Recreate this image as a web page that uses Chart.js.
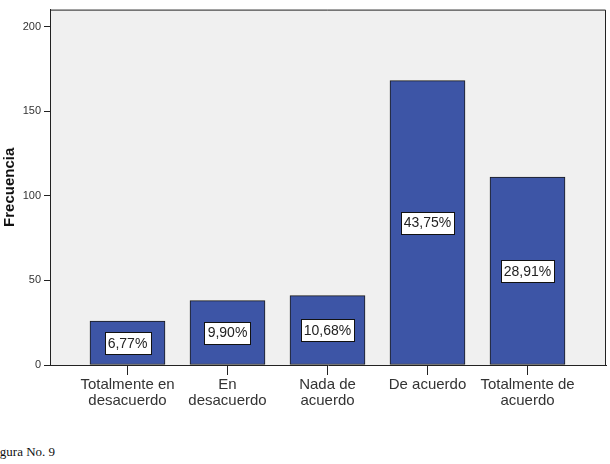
<!DOCTYPE html>
<html>
<head>
<meta charset="utf-8">
<script src="https://cdn.jsdelivr.net/npm/chart.js@4"></script>
<style>
  body { margin: 0; background: #fff; width: 610px; height: 464px; overflow: hidden; position: relative; }
  #c { position: absolute; left: 0; top: 0; }
  #cap { position: absolute; left: -11px; top: 444px; font: 13px "Liberation Serif", serif; color: #111; }
</style>
</head>
<body>
<canvas id="c" width="610" height="430"></canvas>
<div id="cap">Figura No. 9</div>
<script>
// chart data
var categories = [
  ["Totalmente en", "desacuerdo"],
  ["En", "desacuerdo"],
  ["Nada de", "acuerdo"],
  ["De acuerdo"],
  ["Totalmente de", "acuerdo"]
];
var frecuencia = [26, 38, 41, 168, 111];
var porcentajes = ["6,77%", "9,90%", "10,68%", "43,75%", "28,91%"];
var yTicks = [0, 50, 100, 150, 200];

// grey plot background with frame
var plotBox = {
  id: "plotBox",
  beforeDraw: function (chart) {
    var a = chart.chartArea, ctx = chart.ctx;
    ctx.save();
    ctx.fillStyle = "#f0f0f0";
    ctx.fillRect(a.left, a.top, a.right - a.left, a.bottom - a.top);
    ctx.strokeStyle = "#222";
    ctx.lineWidth = 1;
    ctx.beginPath();
    ctx.moveTo(a.left, a.top + 0.5);
    ctx.lineTo(a.right - 0.5, a.top + 0.5);
    ctx.lineTo(a.right - 0.5, a.bottom);
    ctx.stroke();
    ctx.restore();
  }
};

// percentage boxes in the middle of each bar
var pctLabels = {
  id: "pctLabels",
  afterDatasetsDraw: function (chart) {
    var ctx = chart.ctx;
    var meta = chart.getDatasetMeta(0);
    ctx.save();
    ctx.font = "14px 'Liberation Sans', Arial, sans-serif";
    ctx.textAlign = "center";
    ctx.textBaseline = "middle";
    meta.data.forEach(function (bar, i) {
      var txt = porcentajes[i];
      var w = Math.round(ctx.measureText(txt).width + 6);
      var h = 22;
      var cy = (bar.y + bar.base) / 2;
      var bx = Math.round(bar.x - w / 2) + 0.5, by = Math.round(cy - h / 2) + 0.5;
      ctx.fillStyle = "#fff";
      ctx.fillRect(bx, by, w, h);
      ctx.strokeStyle = "#111";
      ctx.lineWidth = 1;
      ctx.strokeRect(bx, by, w, h);
      ctx.fillStyle = "#222";
      ctx.fillText(txt, bar.x, cy + 1);
    });
    ctx.restore();
  }
};

var ctx = document.getElementById("c").getContext("2d");
var chart = new Chart(ctx, {
  type: "bar",
  data: {
    datasets: [{
      data: frecuencia.map(function (v, i) { return { x: i, y: v }; }),
      backgroundColor: "#3d55a6",
      borderColor: "#1a1a1a",
      borderWidth: 1,
      borderSkipped: false,
      barThickness: 75
    }]
  },
  options: {
    responsive: false,
    animation: false,
    layout: { padding: { top: 7, right: 4, left: 0, bottom: 0 } },
    plugins: { legend: { display: false }, tooltip: { enabled: false } },
    scales: {
      x: {
        type: "linear",
        offset: false,
        min: -0.775,
        max: 4.785,
        afterBuildTicks: function (scale) {
          scale.ticks = categories.map(function (c, i) { return { value: i }; });
        },
        afterFit: function (scale) { scale.height = 65; },
        ticks: {
          autoSkip: false,
          maxRotation: 0,
          padding: 1,
          color: "#333",
          font: { family: "'Liberation Sans', Arial, sans-serif", size: 15, lineHeight: 1.12 },
          callback: function (v) { return categories[v]; }
        },
        grid: { drawOnChartArea: false, offset: false, tickLength: 10, color: "#222" },
        border: { color: "#222", width: 1 }
      },
      y: {
        min: 0,
        max: 210,
        afterBuildTicks: function (scale) {
          scale.ticks = yTicks.map(function (v) { return { value: v }; });
        },
        afterFit: function (scale) { scale.width = 50; },
        ticks: {
          padding: 3,
          color: "#333",
          font: { family: "'Liberation Sans', Arial, sans-serif", size: 11 }
        },
        grid: { drawOnChartArea: false, tickLength: 6, color: "#222" },
        border: { color: "#222", width: 1 },
        title: {
          display: true,
          text: "Frecuencia",
          color: "#111",
          padding: { top: 1, bottom: 0 },
          font: { family: "'Liberation Sans', Arial, sans-serif", size: 15, weight: "bold" }
        }
      }
    }
  },
  plugins: [plotBox, pctLabels]
});
</script>
</body>
</html>
